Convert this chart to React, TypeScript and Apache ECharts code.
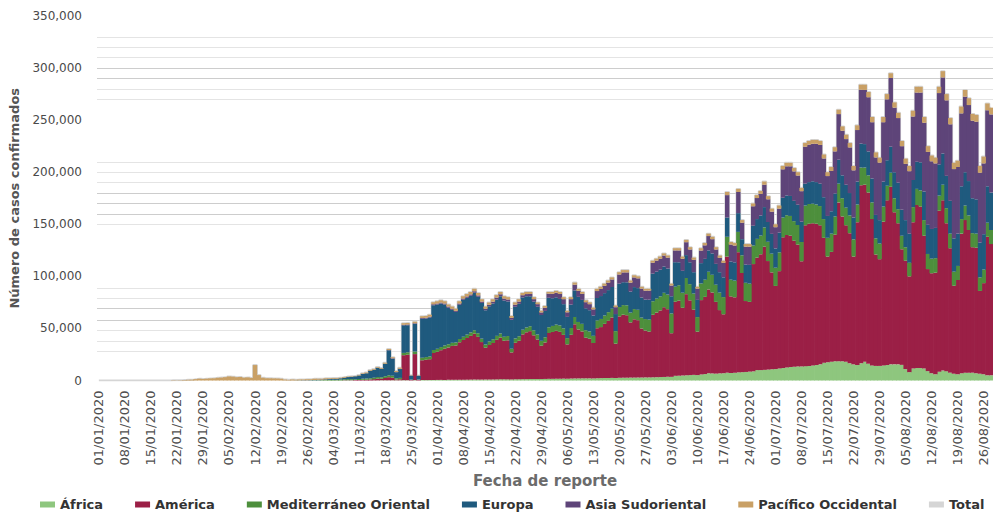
import React, { useEffect, useRef } from "react";
import * as echarts from "echarts";

// ---- Data (daily cases by WHO region, 01/01/2020 – 28/08/2020) ----
const seriesNames = [
  "África",
  "América",
  "Mediterráneo Oriental",
  "Europa",
  "Asia Sudoriental",
  "Pacífico Occidental",
  "Total",
];

const africa = [
  // Jan
  0,0,0,0,0,0,0,0,0,0, 0,0,0,0,0,0,0,0,0,0, 0,0,0,0,0,0,0,0,0,0, 0,
  // Feb
  0,0,0,0,0,0,0,0,0,0, 0,0,0,0,0,0,0,0,0,0, 0,0,0,0,0,0,0,0,0,
  // Mar
  0,2,3,5,10,10,15,20,20,30, 40,50,60,80,100,120,150,180,200,250,150,200, 300,300,50,350,50,400,400,450,500,
  // Apr
  550,600,600,650,700,700,750,800,800,850, 900,900,900,900,1000,1000,1050,1100,1100,1100, 1000,1200,1200,1300,1300,1400,1400,1400,1400,1500,
  // May
  1600,1600,1700,1700,1800,1700,1900,2000,2000,2100, 2100,2100,2000,2200,2300,2400,2400,2500,2400,2600, 2700,2700,2800,2800,2900,2900,3000,3000,3100,3200, 3300,
  // Jun
  3400,3600,3500,4500,4600,4800,5000,5200,5400,5200, 5800,6200,7000,6800,6600,6900,7000,7500,7200,7400, 7800,8000,8200,8500,8800,10000,10000,10200,10500,10800,
  // Jul
  11000,11500,12000,12500,13000,13200,13500,13500,13800,14000, 14500,15000,15500,17000,17500,18000,18500,18500,18500,18000, 16500,15500,15000,16500,18000,16000,14500,14000,14000,14500, 15000,
  // Aug
  15500,15500,15500,15000,11000,8000,11500,12000,12000,11500, 9000,7000,6000,8500,9500,9000,7500,6500,6000,7000, 7500,7500,7500,7000,6500,6000,5000,5000,
];

const america = [
  0,0,0,0,0,0,0,0,0,0, 0,0,0,0,0,0,0,0,0,0, 0,0,0,0,0,0,0,0,0,0, 0,
  0,0,0,0,0,0,0,0,0,0, 0,0,0,0,0,0,0,0,0,0, 0,0,0,0,0,0,0,0,0,
  10,20,30,40,60,90,120,180,250,350, 450,600,700,900,1200,1600,1500,2300,3000,2300,800,1000, 24000,24500,500,25000,600,19000,19500,20000,26000,
  27000,28500,30000,31000,32500,33000,36000,38000,40000,42000, 44000,41000,36000,30500,33000,35000,38000,40000,37000,37500, 26000,35000,37000,43000,45000,46000,42000,38000,32000,35000,
  44000,45000,46000,45000,42000,33000,42000,52000,47000,45000, 39000,38000,34000,48000,49000,52000,55000,58000,33000,59000, 60500,60000,53000,56000,55000,47000,45000,44000,60000,62000, 64000,
  67000,64900,41900,71100,72100,65000,77900,71800,62600,41700, 71400,74100,80400,77700,68900,60700,56600,111500,73600,72500, 115400,95200,68100,67000,103000,108000,111200,118300,104200,93000,
  79800,93500,125500,127200,126000,121000,117000,101000,135200,136500, 136500,135500,133500,120000,101500,105500,121500,152500,139000,131000, 125000,103500,137000,171000,170000,164500,140500,107000,102500,138000, 158000,
  170500,146000,135500,111000,104000,92000,140500,156500,155000,127500, 98000,96000,97500,154500,163500,142000,119500,84500,90500,134000, 146500,137000,120500,120500,79500,87500,133000,126000,
];

const mediterraneo = [
  0,0,0,0,0,0,0,0,0,0, 0,0,0,0,0,0,0,0,0,0, 0,0,0,0,0,0,0,0,0,0, 0,
  0,0,0,0,0,0,0,0,0,0, 0,0,0,0,0,0,0,0,0, 10,20,30,40,60,80,120,150,200,300,
  400,500,600,700,600,800,1000,1100,1000,900, 1000,1100,1200,1300,1400,1600,1500,1700,1800,1900,1200,1300, 2200,2300,300,2500,300,2500,2600,2600,2800,
  2900,3000,3000,3100,3000,2900,3000,3200,3300,3300, 3400,3500,3300,3200,3400,3600,3800,4000,4000,4100, 3500,4200,4300,4500,4600,4700,4800,4800,4700,5000,
  5500,5800,6000,6200,6300,6000,6500,7000,7200,7300, 7200,7000,6900,7500,7800,8000,8200,8500,12000,9000, 9200,9500,9400,9800,10000,10500,11000,11500,13000,13500, 13500,
  13800,14000,19000,14500,14800,14500,15500,15500,15500,14000, 16000,16500,17000,17000,16500,16800,16500,19000,16000,16000, 19500,17000,17500,17500,17800,18000,18000,18500,18500,18000,
  17500,18000,19000,19000,19000,18800,18800,18500,19000,19000, 18800,18500,18500,18000,18000,17500,17500,18000,17500,17000, 17000,16500,17000,17000,16500,16500,16000,15500,15000,14500, 14000,
  13500,13500,13500,13000,13000,13000,14500,15500,15500,15000, 14500,14000,14000,14500,15000,14500,14000,13500,13500,14000, 14000,14000,13500,13500,13000,13000,13500,13500,
];

const europa = [
  0,0,0,0,0,0,0,0,0,0, 0,0,0,0,0,0,0,0,0,0, 0,0,0,0,0,0,0,0,0,0, 0,
  0,0,0,0,0,0,0,0,0,0, 0,0,0,0,0,0,0,0,0,0, 0, 20,60,120,100,180,250,300,350,
  500,600,700,900,1000,1300,1600,2000,2300,2700, 3300,4500,5000,7000,7500,8800,8000,11800,24000,16500,5800,8500, 26500,26000,3800,26500,3500,37500,37000,37500,43000,
  42500,41800,39300,35200,31700,29300,33000,35500,35300,35200, 36000,35000,34300,32900,33800,34400,35000,35700,34800,33200, 27800,30400,31200,31000,30000,28800,27500,26600,24800,25300,
  28300,26600,26200,25400,23200,20400,22500,25500,24100,23000, 21000,20400,19500,21500,22000,21500,21200,20800,16400,22400, 22000,22100,20200,21100,20800,19300,18700,19100,26500,25800, 25700,
  25200,25000,16500,23500,22000,21000,22000,21000,20500,16500, 19500,20000,20500,20500,20000,19600,19000,18500,17500,17600, 18000,15500,17500,18000,19000,19000,19200,19500,19000,19000,
  18500,19000,19000,19000,19200,19500,19500,19500,21000,21000, 21500,21500,21500,21000,21000,21500,22000,23000,22000,22000, 21500,21000,22000,23000,22500,23000,23000,22500,22500,24000, 24500,
  25000,25000,25500,25000,26000,28000,26000,26000,27000,27500, 28000,28500,29000,30000,30000,31000,31500,32000,31000,31500, 32000,33000,33500,33000,33500,34000,35000,36000,
];

const asia = [
  0,0,0,0,0,0,0,0,0,0, 0,0,0,0,0,0,0,0,0,0, 0,0,0,0,0,0,0,0,0,0, 0,
  0,0,0,0,0,0,0,0,0,0, 0,0,0,0,0,0,0,0,0,0, 0,0,0,0,0,0,0,0,0,
  0,5,5,10,10,15,15,20,30,40, 50,60,70,80,100,120,150,200,250,300,200,250, 500,600,100,600,100,700,700,800,900,
  1000,1000,1000,1000,1000,1000,1100,1200,1300,1300, 1300,1300,1300,1300,1500,1700,1800,1900,1900,1900, 1800,2000,2100,2100,2100,2200,2400,2500,2500,3000,
  4000,4200,4400,4800,4800,4400,5200,5500,5800,5800, 5900,5800,5900,6700,6900,7000,7200,7200,6600,8800, 9400,9500,8600,9300,9400,8500,8600,8700,10500,10600, 10500,
  10600,10500,10300,11300,11400,11600,12400,12300,11900,10800, 12100,13000,13800,13700,13800,13800,13800,21500,16300,16100, 20300,15800,17200,17500,18700,20200,20800,21500,21800,21300,
  20400,23000,27300,28000,28500,28300,28000,29300,35500,36000, 36000,36800,37200,37200,38300,38700,40500,43800,42800,43800, 43800,45300,49500,51700,52000,52000,54000,55200,55200,57000, 58500,
  66000,62000,62000,61000,54000,60000,61000,66500,67000,66000, 70000,65000,62000,68500,73000,72500,73500,66500,64000,70000, 72500,73000,74500,74500,67000,68000,73000,75000,
];

const pacifico = [
  0,0,0,0,0,0,0,0,0,0, 0,0,0,0,0,0,0,0,0,0, 280,150,260,450,680,780,1300,1750,1500,1750, 2000,
  2100,2600,2800,3200,3900,3700,3200,3400,2700,3000, 2500,14800,5200,2700,2100,2100,2000,1900,1800,900, 600,800,650,800,700,900,800,1100,1000,
  700,1000,800,700,700,500,500,450,400,400, 500,600,600,650,700,700,750,900,1000,1000,900,1000, 1500,1400,300,1500,300,1600,1700,1800,2000,
  2100,2100,2100,2050,2100,2100,2150,2300,2300,2350, 2400,2300,2200,2200,2300,2300,2350,2300,2200,2200, 1900,2200,2200,2100,2000,1900,1900,1700,1600,1700,
  1600,1800,1700,1900,1900,1500,1900,2000,1900,1800, 1800,1700,1700,2100,2000,2100,2000,2000,1600,2200, 2200,2200,2000,2000,1900,1800,1700,1700,1900,1900, 2000,
  2000,2000,1800,2100,2100,2100,2200,2200,2100,1800, 2200,2200,2300,2300,2200,2200,2100,3000,2400,2400, 3000,2500,2500,2500,2700,2800,2800,3000,3000,2900,
  2800,3000,3200,3300,3300,3200,3200,3200,3500,3500, 3700,3700,3800,3800,3700,3800,4000,4200,4200,4200, 4200,4200,4500,4800,5000,5000,5000,4800,4800,5000, 5000,
  4500,5000,5000,5000,5000,5000,5500,5500,5500,5500, 5500,5500,5500,6000,6000,6000,6000,6000,6000,6500, 6500,6500,6500,6500,6500,6500,6500,6500,
];

// Faint horizontal reference lines seen behind the bars
const refLinesLight = [330000, 320000, 310000, 280000, 270000, 210000, 200000, 190000, 150000, 89000, 79000, 48000, 38000, 28000];
const refLinesDark = [300000, 290000, 180000, 170000, 160000, 69000, 58000];

const yTicks = { min: 0, max: 350000, interval: 50000 };

const regionSeries = [africa, america, mediterraneo, europa, asia, pacifico];
const colors = ["#8ec67e", "#9b1f46", "#4d8f3c", "#1f5a7e", "#5e4479", "#c9a065", "#d5d5d5"];

function pad(n: number) {
  return n < 10 ? "0" + n : "" + n;
}

const dayCount = africa.length;
const dates: string[] = [];
for (let i = 0; i < dayCount; i++) {
  const d = new Date(Date.UTC(2020, 0, 1 + i));
  dates.push(`${pad(d.getUTCDate())}/${pad(d.getUTCMonth() + 1)}/${d.getUTCFullYear()}`);
}
const total = dates.map((_, i) => regionSeries.reduce((s, arr) => s + (arr[i] || 0), 0));

const FONT = "'DejaVu Sans', Verdana, sans-serif";

export default function App() {
  const ref = useRef<HTMLDivElement>(null);

  useEffect(() => {
    if (!ref.current) return;
    const chart = echarts.init(ref.current, undefined, { renderer: "svg" });
    const series: any[] = regionSeries.map((data, k) => ({
      name: seriesNames[k],
      type: "bar",
      stack: "casos",
      data,
      barWidth: "118%",
      z: 2,
      silent: true,
      itemStyle: { color: colors[k], borderWidth: 0 },
    }));
    series.push({
      name: "Total",
      type: "line",
      data: total,
      step: "middle",
      showSymbol: false,
      symbol: "none",
      z: 1,
      silent: true,
      lineStyle: { color: colors[6], width: 2 },
      itemStyle: { color: colors[6] },
      markLine: {
        silent: true,
        symbol: "none",
        z: 1,
        label: { show: false },
        lineStyle: { color: "#e4e4e4", width: 1, type: "solid" },
        data: [
          ...refLinesLight.map((v) => ({ yAxis: v })),
          ...refLinesDark.map((v) => ({ yAxis: v, lineStyle: { color: "#cdcdcd", width: 1, type: "solid" } })),
        ],
      },
    });

    chart.setOption({
      animation: false,
      backgroundColor: "#ffffff",
      grid: { left: 97, right: 0, top: 16, bottom: 135.5, containLabel: false },
      legend: {
        left: 40,
        top: 498,
        width: 990,
        padding: 0,
        icon: "rect",
        itemWidth: 15,
        itemHeight: 6,
        itemGap: 32,
        data: seriesNames,
        textStyle: { fontFamily: FONT, fontWeight: "bold", fontSize: 13, color: "#333333" },
      },
      xAxis: {
        type: "category",
        data: dates,
        boundaryGap: true,
        axisLine: { show: false },
        axisTick: { show: false },
        axisLabel: {
          interval: 6,
          rotate: 90,
          margin: 10,
          fontFamily: FONT,
          fontSize: 13,
          color: "#4f4f4f",
        },
        name: "Fecha de reporte",
        nameLocation: "middle",
        nameGap: 87,
        nameTextStyle: { fontFamily: FONT, fontWeight: "bold", fontSize: 15, color: "#6b6b6b" },
      },
      yAxis: {
        type: "value",
        min: yTicks.min,
        max: yTicks.max,
        interval: yTicks.interval,
        splitLine: { show: false },
        axisLine: { show: false },
        axisTick: { show: false },
        axisLabel: {
          margin: 15,
          fontFamily: FONT,
          fontSize: 12,
          color: "#4a4a4a",
          formatter: (v: number) => v.toLocaleString("en-US"),
        },
        name: "Número de casos confirmados",
        nameLocation: "middle",
        nameGap: 75,
        nameTextStyle: { fontFamily: FONT, fontWeight: "bold", fontSize: 13, color: "#555555" },
      },
      series,
    });
    return () => chart.dispose();
  }, []);

  return (
    <div
      ref={ref}
      style={{ position: "fixed", left: 0, top: 0, width: 993, height: 516, background: "#fff" }}
    />
  );
}
